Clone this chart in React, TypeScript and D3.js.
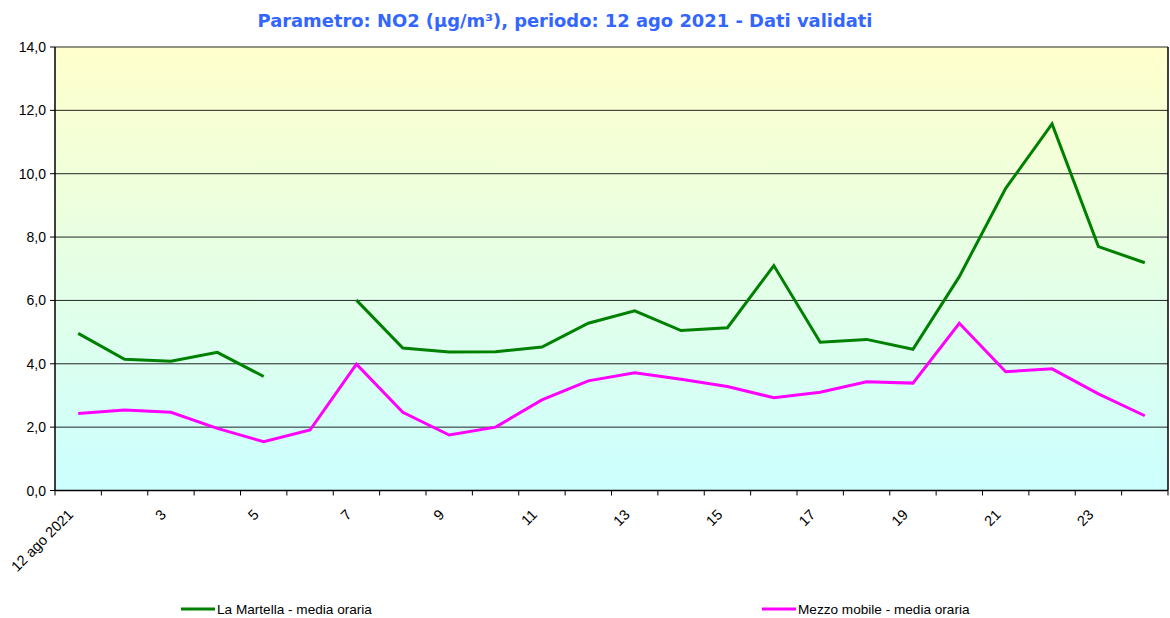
import * as d3 from "d3";
import React from "react";

const W = 1170;
const H = 618;
const left = 55;
const right = 1168;
const top = 47;
const bottom = 490.5;

// hours 1..24 of 12 ago 2021
const hours = d3.range(1, 25);
const xLabels = hours.map((h, i) =>
    i % 2 === 0 ? (i === 0 ? "12 ago 2021" : String(h)) : "");

const laMartella: (number | null)[] = [
    4.96, 4.14, 4.08, 4.36, 3.6, null, 6.01, 4.5, 4.37, 4.38, 4.53, 5.28,
    5.67, 5.05, 5.14, 7.1, 4.68, 4.77, 4.46, 6.75, 9.54, 11.57, 7.7, 7.19,
];
const mezzoMobile: (number | null)[] = [
    2.43, 2.54, 2.47, 1.96, 1.54, 1.91, 3.99, 2.47, 1.75, 2.0, 2.86, 3.46,
    3.72, 3.51, 3.28, 2.93, 3.1, 3.43, 3.39, 5.28, 3.75, 3.84, 3.05, 2.36,
];
const yTicks = [0, 2, 4, 6, 8, 10, 12, 14];

const series = [
    {name: "La Martella - media oraria", values: laMartella, color: "#008000", lx: 181},
    {name: "Mezzo mobile - media oraria", values: mezzoMobile, color: "#FF00FF", lx: 762},
];

export default function App() {
    const x = d3.scaleBand<number>().domain(d3.range(hours.length)).range([left, right]);
    const y = d3.scaleLinear().domain([0, 14]).range([bottom, top]);
    const cx = (i: number) => x(i)! + x.bandwidth() / 2;

    const line = d3
        .line<number | null>()
        .defined((d) => d !== null)
        .x((_, i) => cx(i))
        .y((d) => y(d as number));

    const font = "Arial, 'Liberation Sans', sans-serif";

    return (
        <svg width={W} height={H} style={{position: "absolute", left: 0, top: 0}}>
            <defs>
                <linearGradient id="bg" x1="0" y1="0" x2="0" y2="1">
                    <stop offset="0%" stopColor="#FFFFCC"/>
                    <stop offset="100%" stopColor="#CCFFFF"/>
                </linearGradient>
            </defs>

            {/* title */}
            <text x={565} y={27} textAnchor="middle" fontFamily="'DejaVu Sans', Verdana, sans-serif"
                  fontWeight="bold" fontSize={17} fill="#3366FF" textLength={615}
                  lengthAdjust="spacingAndGlyphs">
                Parametro: NO2 (µg/m³), periodo: 12 ago 2021 - Dati validati
            </text>

            {/* plot background */}
            <rect x={left} y={top} width={right - left} height={bottom - top} fill="url(#bg)"/>

            {/* grid */}
            {yTicks.map((t) => (
                <g key={t}>
                    {t > 0 && (
                        <line x1={left} x2={right} y1={y(t)} y2={y(t)} stroke="#000" strokeWidth={1}
                              opacity={0.85}/>
                    )}
                    <line x1={left - 5} x2={left} y1={y(t)} y2={y(t)} stroke="#000"/>
                    <text x={left - 9} y={y(t) + 5} textAnchor="end" fontFamily={font} fontSize={14}
                          fill="#000">
                        {t.toFixed(1).replace(".", ",")}
                    </text>
                </g>
            ))}

            {/* axes */}
            <line x1={left} x2={left} y1={top} y2={bottom} stroke="#000" strokeWidth={1.5}/>
            <line x1={right} x2={right} y1={top} y2={bottom} stroke="#000" strokeWidth={1.5}/>
            <line x1={left} x2={right} y1={bottom} y2={bottom} stroke="#000" strokeWidth={1.5}/>

            {d3.range(hours.length + 1).map((i) => {
                const xx = left + i * x.bandwidth();
                return <line key={i} x1={xx} x2={xx} y1={bottom} y2={bottom + 5} stroke="#000"/>;
            })}

            {xLabels.map((lab, i) =>
                lab ? (
                    <text key={i} transform={`translate(${cx(i) - 4},${bottom + 25}) rotate(-45)`}
                          textAnchor="end" fontFamily={font} fontSize={14.5} fill="#000">
                        {lab}
                    </text>
                ) : null
            )}

            {/* series */}
            {series.map((s) => (
                <path key={s.name} d={line(s.values) || ""} fill="none" stroke={s.color} strokeWidth={3}
                      strokeLinejoin="miter"/>
            ))}

            {/* legend */}
            {series.map((s) => (
                <g key={s.name}>
                    <line x1={s.lx} x2={s.lx + 34} y1={609} y2={609} stroke={s.color} strokeWidth={3}/>
                    <text x={s.lx + 36} y={614} fontFamily={font} fontSize={13.6} fill="#000">
                        {s.name}
                    </text>
                </g>
            ))}
        </svg>
    );
}
